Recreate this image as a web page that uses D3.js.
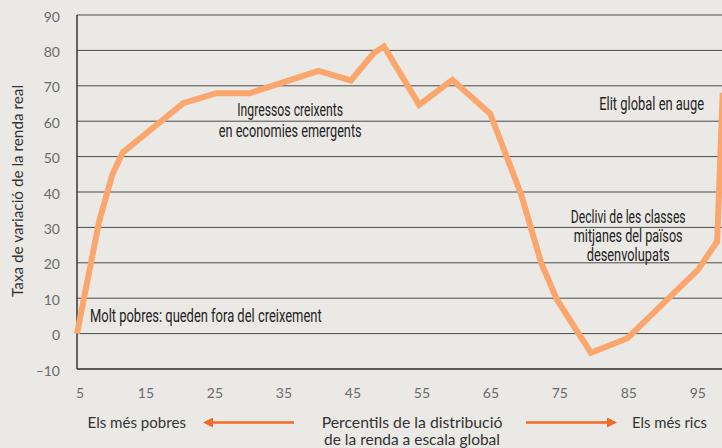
<!DOCTYPE html>
<html>
<head>
<meta charset="utf-8">
<script src="https://cdn.jsdelivr.net/npm/d3@7/dist/d3.min.js"></script>
<style>
  html, body { margin: 0; padding: 0; background: #ebe9e6; }
  svg { display: block; }
</style>
</head>
<body>
<svg id="chart" width="722" height="448"></svg>
<script>
// ---- data ----
const percentiles = [5, 8.2, 10.1, 11.6, 20.4, 25.2, 30.0, 40.0, 44.7, 48.0, 49.5, 54.6, 59.4, 64.9, 69.4, 72.3, 74.6, 79.5, 84.8, 95.0, 97.8, 98.6];
const growth      = [0, 31.6, 44.8, 51.1, 65.1, 67.9, 67.9, 74.2, 71.5, 79.2, 81.1, 64.6, 71.7, 62.1, 39.2, 19.9, 9.5, -5.4, -1.3, 18.0, 26.0, 68.0];
const yTicks = [-10, 0, 10, 20, 30, 40, 50, 60, 70, 80, 90];
const xTicks = [5, 15, 25, 35, 45, 55, 65, 75, 85, 95];
const yTitle = "Taxa de variació de la renda real";
const annotations = [
  { lines: ["Molt pobres: queden fora del creixement"], p: 6.88, v: 3.4, anchor: "start", widths: [232] },
  { lines: ["Ingressos creixents", "en economies emergents"], p: 35.9, v: 61.4, anchor: "middle", widths: [106, 143] },
  { lines: ["Elit global en auge"], p: 88.3, v: 63.2, anchor: "middle", widths: [105] },
  { lines: ["Declivi de les classes", "mitjanes del països", "desenvolupats"], p: 84.9, v: 31.3, anchor: "middle", widths: [115, 109, 83] }
];
const bottomLeft = "Els més pobres";
const bottomCenter = ["Percentils de la distribució", "de la renda a escala global"];
const bottomRight = "Els més rics";

// ---- layout ----
const svg = d3.select("#chart");
const W = 722, H = 448;
const mLeft = 77, mTop = 15, mBottom = 369;

const x = d3.scaleLinear().domain([5, 98.5]).range([mLeft, W]);
const y = d3.scaleLinear().domain([-10, 90]).range([mBottom, mTop]);

svg.append("rect").attr("width", W).attr("height", H).attr("fill", "#ebe9e6");

// fit a text horizontally to a target width with a scale transform
function fitText(sel, x0, y0, target) {
  const L = sel.node().getComputedTextLength();
  const s = L > 0 ? target / L : 1;
  sel.attr("x", 0).attr("y", 0)
     .attr("transform", `translate(${x0},${y0}) scale(${s},1)`);
  return sel;
}

// gridlines
svg.append("g").selectAll("line").data(yTicks).join("line")
  .attr("x1", mLeft).attr("x2", W)
  .attr("y1", d => y(d)).attr("y2", d => y(d))
  .attr("stroke", d => d === -10 ? "#2a2a2a" : "#4a4a4a")
  .attr("stroke-width", d => d === -10 ? 1.4 : 1);

// y axis line
svg.append("line").attr("x1", mLeft).attr("x2", mLeft)
  .attr("y1", mTop).attr("y2", mBottom)
  .attr("stroke", "#2a2a2a").attr("stroke-width", 1.4);

// y tick labels
svg.append("g").selectAll("text").data(yTicks).join("text")
  .attr("x", 60).attr("y", d => y(d) + 6.5)
  .attr("text-anchor", "end")
  .attr("font-family", "Lato, 'Open Sans', sans-serif")
  .attr("font-size", 14)
  .attr("fill", "#6a6a6a")
  .text(d => d < 0 ? "–" + Math.abs(d) : d);

// x tick labels
svg.append("g").selectAll("text").data(xTicks).join("text")
  .attr("x", d => x(d) + (d === 5 ? 3 : 0)).attr("y", 398)
  .attr("text-anchor", "middle")
  .attr("font-family", "Lato, 'Open Sans', sans-serif")
  .attr("font-size", 14)
  .attr("fill", "#6a6a6a")
  .text(d => d);

// y title
svg.append("text")
  .attr("transform", `translate(23,${191}) rotate(-90)`)
  .attr("text-anchor", "middle")
  .attr("font-family", "Lato, 'Open Sans', sans-serif")
  .attr("font-size", 15)
  .attr("fill", "#333")
  .attr("textLength", 212).attr("lengthAdjust", "spacingAndGlyphs")
  .text(yTitle);

// line
const line = d3.line().x((d, i) => x(percentiles[i])).y(d => y(d));
svg.append("path")
  .datum(growth)
  .attr("d", line)
  .attr("fill", "none")
  .attr("stroke", "#fba66d")
  .attr("stroke-width", 6)
  .attr("stroke-linejoin", "miter")
  .attr("stroke-linecap", "butt");

// annotations
annotations.forEach(a => {
  const lh = a.lines.length === 3 ? 19 : 21;
  a.lines.forEach((t, i) => {
    const tx = svg.append("text")
      .attr("text-anchor", a.anchor)
      .attr("font-family", "Roboto, sans-serif")
      .attr("font-size", 17.5)
      .attr("fill", "#222")
      .text(t);
    fitText(tx, x(a.p), y(a.v) + i * lh, a.widths[i]);
  });
});

// bottom labels
const bfont = "Lato, 'Open Sans', sans-serif";
const bl = svg.append("text")
  .attr("font-family", bfont).attr("font-size", 15).attr("fill", "#333")
  .text(bottomLeft);
fitText(bl, 87.5, 427.5, 98.5);
const br = svg.append("text")
  .attr("font-family", bfont).attr("font-size", 15).attr("fill", "#333")
  .text(bottomRight);
fitText(br, 632, 427.5, 75);
bottomCenter.forEach((t, i) => {
  const bc = svg.append("text")
    .attr("text-anchor", "middle")
    .attr("font-family", bfont).attr("font-size", 15).attr("fill", "#333")
    .text(t);
  fitText(bc, 412, 427.5 + i * 17, i === 0 ? 181 : 176);
});

// arrows
const arrowColor = "#f26a24";
const defs = svg.append("defs");
defs.append("marker").attr("id", "ah")
  .attr("viewBox", "0 0 10 10").attr("refX", 8).attr("refY", 5)
  .attr("markerWidth", 4).attr("markerHeight", 4)
  .attr("markerUnits", "strokeWidth")
  .attr("orient", "auto")
  .append("path").attr("d", "M0,0 L10,5 L0,10 z").attr("fill", arrowColor);

svg.append("line").attr("x1", 294).attr("y1", 422.5).attr("x2", 205).attr("y2", 422.5)
  .attr("stroke", arrowColor).attr("stroke-width", 2.5).attr("marker-end", "url(#ah)");
svg.append("line").attr("x1", 526).attr("y1", 422.5).attr("x2", 615).attr("y2", 422.5)
  .attr("stroke", arrowColor).attr("stroke-width", 2.5).attr("marker-end", "url(#ah)");
</script>
</body>
</html>
